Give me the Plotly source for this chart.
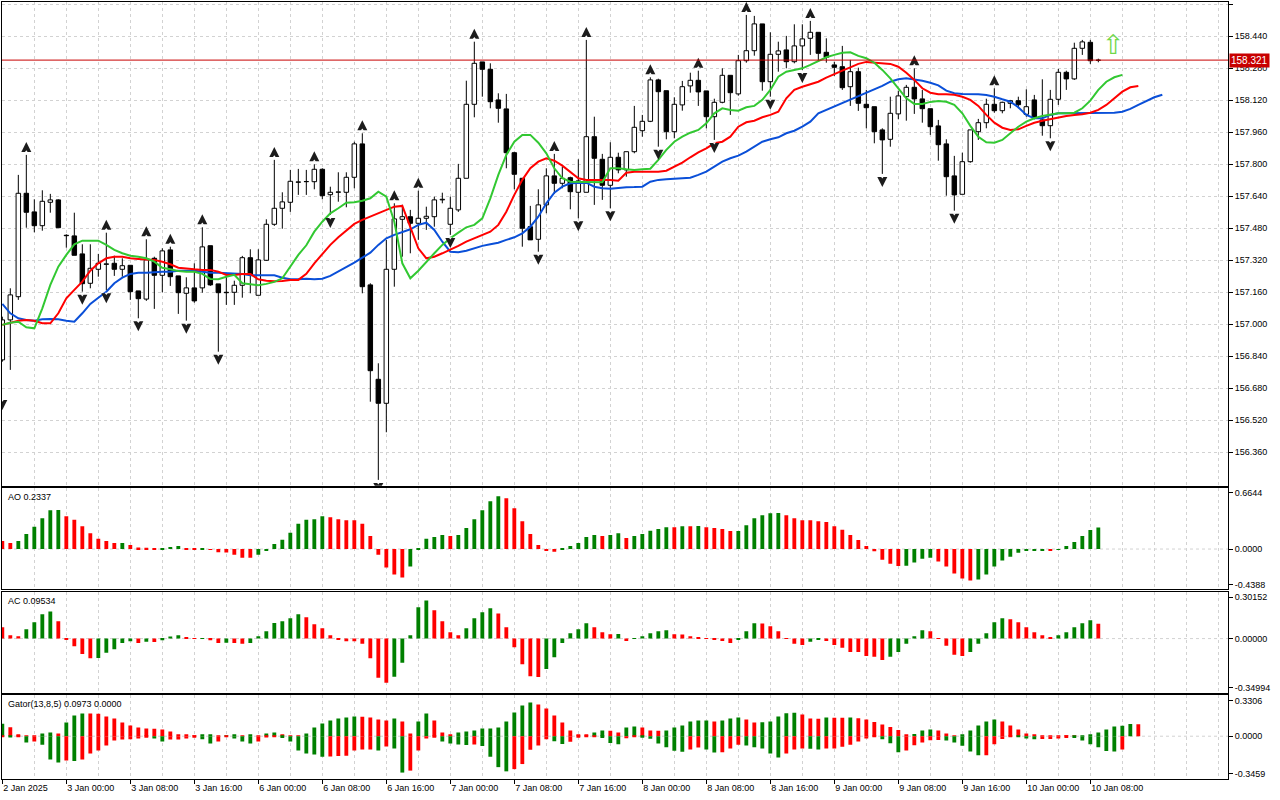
import plotly.graph_objects as go

# ---------------- data ----------------
tick_bars = [0, 8, 16, 24, 32, 40, 48, 56, 64, 72, 80, 88, 96, 104, 112, 120, 128, 136]
tick_labels = ["2 Jan 2025", "3 Jan 00:00", "3 Jan 08:00", "3 Jan 16:00", "6 Jan 00:00",
               "6 Jan 08:00", "6 Jan 16:00", "7 Jan 00:00", "7 Jan 08:00", "7 Jan 16:00",
               "8 Jan 00:00", "8 Jan 08:00", "8 Jan 16:00", "9 Jan 00:00", "9 Jan 08:00",
               "9 Jan 16:00", "10 Jan 00:00", "10 Jan 08:00"]
price_ticks = [156.36, 156.52, 156.68, 156.84, 157.00, 157.16, 157.32, 157.48, 157.64,
               157.80, 157.96, 158.12, 158.28, 158.44, 158.60]

bar_open = [
    156.822, 157.022, 157.138, 157.655, 157.562, 157.493, 157.610, 157.622, 157.445, 157.442,
    157.352, 157.205, 157.275, 157.302, 157.305, 157.275, 157.295, 157.167, 157.126, 157.330,
    157.245, 157.372, 157.242, 157.155, 157.182, 157.182, 157.393, 157.202, 157.160, 157.160,
    157.195, 157.333, 157.145, 157.320, 157.500, 157.580, 157.610, 157.710, 157.713, 157.713,
    157.775, 157.648, 157.660, 157.660, 157.735, 157.902, 157.197, 156.725, 156.605, 157.275,
    157.525, 157.538, 157.505, 157.530, 157.538, 157.622, 157.500, 157.572, 157.730, 158.100,
    158.312, 158.275, 158.122, 158.077, 157.858, 157.730, 157.488, 157.425, 157.597, 157.742,
    157.705, 157.733, 157.660, 157.660, 157.938, 157.825, 157.695, 157.835, 157.772, 157.863,
    157.968, 158.015, 158.222, 158.168, 157.963, 158.097, 158.192, 158.220, 158.167, 158.038,
    158.110, 158.245, 158.152, 158.318, 158.368, 158.502, 158.213, 158.350, 158.372, 158.313,
    158.392, 158.430, 158.460, 158.360, 158.297, 158.288, 158.188, 158.263, 158.100, 158.088,
    157.972, 157.925, 158.052, 158.138, 158.185, 158.127, 158.078, 157.992, 157.902, 157.742,
    157.650, 157.813, 157.963, 158.008, 158.100, 158.068, 158.105, 158.118, 158.050, 158.122,
    158.022, 157.993, 158.125, 158.260, 158.227, 158.380, 158.410, 158.320]
bar_high = [
    157.038, 157.180, 157.747, 157.847, 157.625, 157.670, 157.652, 157.625, 157.450, 157.558,
    157.400, 157.400, 157.352, 157.458, 157.343, 157.330, 157.295, 157.167, 157.425, 157.338,
    157.380, 157.388, 157.242, 157.235, 157.305, 157.485, 157.393, 157.202, 157.238, 157.218,
    157.342, 157.375, 157.375, 157.525, 157.822, 157.660, 157.772, 157.777, 157.772, 157.800,
    157.780, 157.688, 157.760, 157.760, 157.913, 157.955, 157.205, 156.805, 157.422, 157.605,
    157.598, 157.572, 157.668, 157.588, 157.638, 157.658, 157.638, 157.802, 158.218, 158.413,
    158.312, 158.305, 158.155, 158.152, 157.863, 157.730, 157.592, 157.675, 157.780, 157.852,
    157.788, 157.738, 157.825, 158.422, 158.038, 157.852, 157.910, 157.858, 157.863, 158.092,
    158.047, 158.235, 158.228, 158.168, 158.135, 158.217, 158.258, 158.268, 158.167, 158.128,
    158.280, 158.245, 158.347, 158.547, 158.542, 158.502, 158.460, 158.413, 158.442, 158.500,
    158.500, 158.517, 158.460, 158.430, 158.313, 158.392, 158.322, 158.283, 158.172, 158.088,
    157.980, 158.138, 158.168, 158.197, 158.280, 158.172, 158.078, 158.022, 157.925, 157.842,
    157.858, 157.972, 158.027, 158.128, 158.180, 158.113, 158.122, 158.138, 158.175, 158.147,
    158.225, 158.172, 158.277, 158.268, 158.408, 158.422, 158.422, 158.328]
bar_low = [
    156.813, 156.772, 157.122, 157.483, 157.460, 157.468, 157.558, 157.483, 157.383, 157.345,
    157.163, 157.180, 157.238, 157.170, 157.242, 157.238, 157.122, 157.030, 157.117, 157.077,
    157.160, 157.192, 157.052, 157.018, 157.108, 157.158, 157.192, 156.863, 157.097, 157.097,
    157.133, 157.155, 157.145, 157.317, 157.492, 157.478, 157.562, 157.647, 157.647, 157.675,
    157.625, 157.547, 157.613, 157.585, 157.680, 157.155, 156.613, 156.222, 156.460, 157.188,
    157.338, 157.355, 157.422, 157.472, 157.488, 157.605, 157.447, 157.562, 157.730, 158.035,
    158.138, 158.080, 158.008, 157.780, 157.675, 157.388, 157.422, 157.363, 157.555, 157.652,
    157.680, 157.575, 157.530, 157.660, 157.597, 157.622, 157.580, 157.755, 157.738, 157.855,
    157.938, 158.011, 157.888, 157.925, 157.930, 158.068, 158.158, 158.092, 157.980, 157.922,
    158.105, 158.047, 158.143, 158.308, 158.343, 158.168, 158.138, 158.263, 158.280, 158.305,
    158.272, 158.347, 158.313, 158.308, 158.242, 158.172, 158.092, 158.067, 157.980, 157.905,
    157.752, 157.888, 158.025, 158.018, 158.052, 158.008, 157.947, 157.818, 157.643, 157.568,
    157.650, 157.808, 157.922, 157.980, 158.058, 158.055, 158.080, 158.080, 158.038, 158.025,
    157.943, 157.930, 158.097, 158.172, 158.222, 158.347, 158.302, 158.310]
bar_close = [
    157.022, 157.147, 157.655, 157.560, 157.493, 157.615, 157.622, 157.483, 157.443, 157.345,
    157.203, 157.280, 157.305, 157.300, 157.275, 157.293, 157.163, 157.128, 157.322, 157.245,
    157.367, 157.238, 157.158, 157.182, 157.117, 157.387, 157.197, 157.158, 157.158, 157.195,
    157.333, 157.248, 157.322, 157.500, 157.580, 157.612, 157.715, 157.712, 157.714, 157.775,
    157.643, 157.660, 157.662, 157.735, 157.902, 157.188, 156.768, 156.605, 157.275, 157.527,
    157.538, 157.505, 157.530, 157.540, 157.622, 157.625, 157.580, 157.730, 158.100, 158.305,
    158.275, 158.113, 158.080, 157.858, 157.750, 157.480, 157.422, 157.597, 157.742, 157.705,
    157.730, 157.663, 157.717, 157.938, 157.830, 157.695, 157.835, 157.772, 157.863, 157.985,
    158.015, 158.222, 158.163, 157.963, 158.100, 158.188, 158.220, 158.162, 158.038, 158.110,
    158.245, 158.158, 158.318, 158.368, 158.502, 158.213, 158.350, 158.367, 158.313, 158.392,
    158.427, 158.460, 158.355, 158.335, 158.285, 158.183, 158.263, 158.105, 158.083, 157.963,
    157.922, 158.055, 158.142, 158.185, 158.127, 158.078, 157.988, 157.898, 157.738, 157.647,
    157.813, 157.972, 158.008, 158.100, 158.068, 158.110, 158.118, 158.098, 158.088, 158.030,
    157.993, 158.125, 158.260, 158.227, 158.380, 158.412, 158.318, 158.321]

# Alligator lines (already shifted forward as plotted)
jaw = [
    157.102, 157.055, 157.030, 157.022, 157.018, 157.025, 157.027, 157.025, 157.018, 157.013,
    157.055, 157.102, 157.133, 157.163, 157.205, 157.233, 157.252, 157.258, 157.258, 157.262,
    157.263, 157.263, 157.268, 157.268, 157.268, 157.263, 157.258, 157.258, 157.255, 157.255,
    157.252, 157.245, 157.245, 157.245, 157.245, 157.233, 157.225, 157.225, 157.228, 157.225,
    157.228, 157.242, 157.263, 157.285, 157.308, 157.333, 157.358, 157.397, 157.430, 157.447,
    157.463, 157.475, 157.497, 157.508, 157.472, 157.413, 157.363, 157.360, 157.368, 157.380,
    157.392, 157.400, 157.408, 157.422, 157.435, 157.455, 157.488, 157.538, 157.605, 157.658,
    157.688, 157.705, 157.708, 157.708, 157.688, 157.680, 157.678, 157.682, 157.685, 157.686,
    157.688, 157.713, 157.722, 157.725, 157.727, 157.730, 157.733, 157.747, 157.763, 157.788,
    157.813, 157.830, 157.843, 157.863, 157.888, 157.913, 157.925, 157.935, 157.955, 157.968,
    157.988, 158.013, 158.055, 158.072, 158.088, 158.105, 158.122, 158.142, 158.158, 158.175,
    158.192, 158.213, 158.225, 158.230, 158.225, 158.218, 158.208, 158.195, 158.168, 158.155,
    158.152, 158.152, 158.150, 158.147, 158.138, 158.125, 158.113, 158.085, 158.047, 158.030,
    158.030, 158.047, 158.055, 158.055, 158.055, 158.055, 158.055, 158.055, 158.056, 158.058,
    158.063, 158.077, 158.097, 158.117, 158.135, 158.148]
teeth = [
    156.997, 157.008, 157.018, 157.022, 157.018, 157.005, 157.005, 157.055, 157.130, 157.172,
    157.213, 157.268, 157.305, 157.330, 157.338, 157.338, 157.330, 157.327, 157.325, 157.322,
    157.313, 157.300, 157.283, 157.278, 157.275, 157.272, 157.272, 157.263, 157.247, 157.247,
    157.252, 157.252, 157.225, 157.218, 157.215, 157.216, 157.222, 157.222, 157.252, 157.305,
    157.352, 157.397, 157.435, 157.468, 157.502, 157.522, 157.538, 157.555, 157.568, 157.588,
    157.592, 157.488, 157.380, 157.330, 157.338, 157.355, 157.372, 157.392, 157.413, 157.430,
    157.450, 157.463, 157.497, 157.563, 157.647, 157.722, 157.780, 157.813, 157.830, 157.818,
    157.793, 157.763, 157.730, 157.722, 157.722, 157.722, 157.722, 157.718, 157.758, 157.763,
    157.763, 157.760, 157.763, 157.768, 157.788, 157.808, 157.835, 157.860, 157.880, 157.905,
    157.913, 157.938, 157.988, 158.010, 158.018, 158.035, 158.047, 158.063, 158.130, 158.172,
    158.188, 158.200, 158.213, 158.233, 158.252, 158.268, 158.285, 158.302, 158.312, 158.308,
    158.305, 158.302, 158.288, 158.258, 158.222, 158.180, 158.158, 158.150, 158.150, 158.148,
    158.138, 158.122, 158.092, 158.047, 158.008, 157.983, 157.972, 157.975, 157.992, 158.008,
    158.018, 158.027, 158.035, 158.042, 158.047, 158.050, 158.058, 158.072, 158.097, 158.130,
    158.163, 158.185, 158.192]
lips = [
    156.997, 157.008, 157.013, 156.985, 156.980, 157.080, 157.197, 157.288, 157.347, 157.400,
    157.418, 157.418, 157.418, 157.397, 157.372, 157.355, 157.343, 157.338, 157.330, 157.313,
    157.283, 157.275, 157.267, 157.263, 157.263, 157.252, 157.227, 157.225, 157.238, 157.247,
    157.205, 157.200, 157.195, 157.202, 157.212, 157.230, 157.288, 157.347, 157.395, 157.463,
    157.513, 157.555, 157.580, 157.608, 157.610, 157.618, 157.630, 157.663, 157.638, 157.513,
    157.305, 157.230, 157.268, 157.313, 157.355, 157.397, 157.430, 157.458, 157.485, 157.497,
    157.530, 157.630, 157.747, 157.847, 157.913, 157.947, 157.947, 157.908, 157.855, 157.780,
    157.730, 157.713, 157.713, 157.713, 157.713, 157.710, 157.780, 157.780, 157.775, 157.772,
    157.775, 157.778, 157.822, 157.872, 157.913, 157.938, 157.958, 157.972, 158.005, 158.055,
    158.080, 158.072, 158.068, 158.085, 158.092, 158.122, 158.172, 158.238, 158.263, 158.272,
    158.280, 158.297, 158.317, 158.335, 158.347, 158.358, 158.360, 158.342, 158.330, 158.308,
    158.272, 158.230, 158.180, 158.130, 158.102, 158.102, 158.112, 158.117, 158.113, 158.097,
    158.055, 157.992, 157.938, 157.910, 157.908, 157.922, 157.955, 157.988, 158.013, 158.030,
    158.042, 158.050, 158.055, 158.055, 158.058, 158.080, 158.118, 158.172, 158.213, 158.235,
    158.247]

up_fractal_bars = [3, 13, 18, 21, 25, 34, 39, 45, 49, 52, 59, 69, 73, 81, 87, 93, 101, 114, 124]
down_fractal_bars = [10, 13, 17, 23, 27, 41, 47, 56, 67, 72, 76, 82, 89, 96, 100, 110, 119, 131]
edge_fractal_bars = [0]
edge_fractal_levels = [156.636]

last_price = 158.321
signal_bar = 138.9
signal_price = 158.40

ao_values = [
    0.087, 0.065, 0.087, 0.163, 0.242, 0.336, 0.423, 0.425, 0.358, 0.318,
    0.249, 0.173, 0.112, 0.087, 0.065, 0.066, 0.043, 0.018, 0.014, 0.004,
    0.005, 0.022, 0.033, 0.011, 0.003, 0.010, -0.004, -0.036, -0.038, -0.061,
    -0.094, -0.095, -0.061, -0.018, 0.054, 0.101, 0.177, 0.275, 0.318, 0.325,
    0.358, 0.347, 0.325, 0.314, 0.313, 0.275, 0.141, -0.061, -0.202, -0.278,
    -0.311, -0.191, 0.004, 0.112, 0.130, 0.152, 0.141, 0.152, 0.228, 0.325,
    0.423, 0.520, 0.574, 0.553, 0.444, 0.303, 0.163, 0.043, -0.014, -0.029,
    0.003, 0.033, 0.065, 0.130, 0.152, 0.141, 0.152, 0.173, 0.119, 0.141,
    0.163, 0.199, 0.217, 0.238, 0.236, 0.249, 0.248, 0.250, 0.238, 0.228,
    0.217, 0.195, 0.196, 0.260, 0.336, 0.369, 0.390, 0.391, 0.369, 0.336,
    0.314, 0.313, 0.303, 0.293, 0.249, 0.210, 0.152, 0.098, 0.033, -0.025,
    -0.116, -0.159, -0.184, -0.181, -0.148, -0.105, -0.094, -0.137, -0.191, -0.267,
    -0.322, -0.343, -0.332, -0.278, -0.191, -0.126, -0.083, -0.040, -0.018, -0.014,
    -0.013, -0.018, -0.004, 0.033, 0.076, 0.141, 0.206, 0.2337]
ao_colors = ("rrggggggrr" "rrrrrgrrrr" "gggrrgrrrr" "rrgggggggg" "grrrrrrrrr"
             "rgggggrggg" "gggrrrrrrr" "gggggrggrg" "ggggrgrgrr" "rrggggggrr"
             "rrrrrrrrrr" "rrrggggrrr" "rrgggggggg" "grgggggg")

ac_values = [
    0.073, 0.022, 0.015, 0.060, 0.105, 0.157, 0.176, 0.112, -0.004, -0.049,
    -0.099, -0.127, -0.126, -0.092, -0.069, -0.028, -0.017, -0.028, -0.021, -0.022,
    -0.011, 0.013, 0.022, 0.004, 0.001, 0.002, -0.011, -0.028, -0.027, -0.028,
    -0.034, -0.028, 0.015, 0.047, 0.101, 0.112, 0.131, 0.157, 0.138, 0.092,
    0.067, 0.022, -0.004, -0.017, -0.018, -0.034, -0.127, -0.254, -0.286, -0.247,
    -0.157, 0.022, 0.202, 0.247, 0.183, 0.112, 0.041, 0.022, 0.067, 0.131,
    0.170, 0.196, 0.163, 0.073, -0.056, -0.166, -0.243, -0.249, -0.196, -0.120,
    -0.028, 0.034, 0.060, 0.099, 0.073, 0.041, 0.028, 0.029, -0.015, 0.002,
    0.015, 0.034, 0.047, 0.054, 0.028, 0.027, 0.015, 0.009, 0.002, -0.009,
    -0.015, -0.028, -0.009, 0.047, 0.099, 0.098, 0.080, 0.047, -0.002, -0.034,
    -0.041, -0.021, -0.009, -0.015, -0.041, -0.060, -0.086, -0.087, -0.112, -0.118,
    -0.138, -0.118, -0.086, -0.034, 0.015, 0.054, 0.047, -0.002, -0.047, -0.105,
    -0.112, -0.086, -0.034, 0.034, 0.105, 0.131, 0.125, 0.105, 0.073, 0.041,
    0.022, 0.009, 0.022, 0.041, 0.073, 0.099, 0.118, 0.09534]
ac_colors = ("rrrggggrrr" "rrgggggrgr" "gggrrgrrgr" "rgggggggrr" "rrrrrrrrrg"
             "ggggrrrrgg" "ggrrrrrrgg" "ggggrrrgrg" "ggggrrrrrr" "rrgggrrrrr"
             "rggrrrrrrr" "rgggggrrrr" "rgggggrrrr" "rrgggggr")

gator_upper = [
    0.100, 0.073, 0.016, 0.006, 0.005, 0.022, 0.030, 0.022, 0.111, 0.167,
    0.184, 0.183, 0.182, 0.159, 0.143, 0.111, 0.086, 0.070, 0.062, 0.061,
    0.054, 0.038, 0.014, 0.013, 0.005, 0.014, 0.015, 0.005, 0.006, 0.014,
    0.003, 0.014, 0.005, 0.022, 0.030, 0.014, 0.005, 0.003, 0.022, 0.070,
    0.103, 0.127, 0.143, 0.151, 0.159, 0.158, 0.151, 0.135, 0.127, 0.143,
    0.119, 0.022, 0.119, 0.184, 0.127, 0.030, 0.014, 0.030, 0.038, 0.046,
    0.062, 0.063, 0.070, 0.119, 0.192, 0.248, 0.273, 0.257, 0.224, 0.167,
    0.111, 0.046, 0.014, 0.013, 0.030, 0.046, 0.045, 0.030, 0.070, 0.078,
    0.070, 0.046, 0.045, 0.047, 0.070, 0.086, 0.119, 0.127, 0.128, 0.119,
    0.127, 0.143, 0.151, 0.135, 0.111, 0.112, 0.119, 0.159, 0.185, 0.190,
    0.175, 0.143, 0.142, 0.151, 0.150, 0.149, 0.152, 0.145, 0.135, 0.115,
    0.095, 0.075, 0.050, 0.015, 0.017, 0.046, 0.054, 0.046, 0.022, 0.006,
    0.014, 0.046, 0.086, 0.119, 0.135, 0.119, 0.086, 0.054, 0.022, 0.014,
    0.006, 0.005, 0.004, 0.003, 0.002, 0.005, 0.012, 0.030, 0.055, 0.078,
    0.085, 0.099, 0.0973]
gator_upper_colors = ("grrrrggrgg" "grrrrrrrrr" "rrrrrggrgg" "rgrggrrrgg" "gggggrrrrg"
                      "rrggrrrggg" "gggggggrrr" "rrrrggrrgg" "rrrggggggr" "gggrrggggg"
                      "rrrgrrgrrr" "rrrrgggrrr" "gggggrrrrr" "rrrrrggggg" "ggr")
gator_lower = [
    -0.004, -0.011, -0.005, -0.051, -0.043, -0.068, -0.189, -0.213, -0.197, -0.200,
    -0.189, -0.140, -0.116, -0.076, -0.035, -0.027, -0.025, -0.018, -0.013, -0.019,
    -0.043, -0.027, -0.026, -0.019, -0.013, -0.024, -0.059, -0.043, -0.008, -0.019,
    -0.043, -0.059, -0.043, -0.011, -0.006, -0.014, -0.043, -0.116, -0.140, -0.148,
    -0.165, -0.164, -0.159, -0.157, -0.116, -0.108, -0.107, -0.116, -0.084, -0.100,
    -0.294, -0.278, -0.116, -0.019, -0.013, -0.043, -0.058, -0.066, -0.072, -0.067,
    -0.080, -0.167, -0.250, -0.284, -0.266, -0.225, -0.110, -0.075, -0.025, -0.040,
    -0.063, -0.045, -0.013, -0.008, -0.006, -0.015, -0.055, -0.065, -0.017, -0.008,
    -0.012, -0.020, -0.058, -0.090, -0.118, -0.125, -0.108, -0.092, -0.108, -0.132,
    -0.130, -0.100, -0.068, -0.075, -0.090, -0.100, -0.140, -0.173, -0.140, -0.108,
    -0.100, -0.101, -0.108, -0.100, -0.099, -0.085, -0.070, -0.043, -0.018, -0.003,
    -0.025, -0.057, -0.130, -0.116, -0.073, -0.050, -0.033, -0.030, -0.035, -0.051,
    -0.078, -0.124, -0.154, -0.153, -0.065, -0.022, -0.006, -0.008, -0.019, -0.024,
    -0.023, -0.022, -0.019, -0.014, -0.015, -0.035, -0.065, -0.089, -0.119, -0.124,
    -0.108]
gator_lower_colors = ("rgrgrgggrg" "rrrrrrrrrg" "grrrrggrrg" "ggrrrggggg" "grrrrrrgrg"
                      "grrrrggggr" "ggggrrrrrg" "grrrrgggrr" "ggggggrrgg" "rrrgggggrr"
                      "rggrrrrrrr" "gggrrrrrgg" "gggrrrrggg" "rrrrgggggg" "r")

ao_range = [-0.4388, 0.6644]
ac_range = [-0.34994, 0.30152]
gator_range = [-0.3459, 0.3306]

# ---------------- styling ----------------
FONT = "Liberation Sans"
GREEN = "#008000"
RED = "#ff0000"
GRID = "#d2d2d2"
DASH = "3px,3px"
X0, X1 = -0.04, 153.21
MAIN_RANGE = [156.193, 158.6115]
PX = 0.005            # price per pixel in the main panel
TIP_OFF = 13 * PX     # fractal arrow tip distance from the bar extreme
NOTCH_OFF = 3.2 * PX  # centre of the small notch cut into the arrow base


def colors(code):
    return [GREEN if ch == "g" else RED for ch in code]


n = len(bar_close)
bars = list(range(n))
fig = go.Figure()

# candle wicks (split so they never cross a hollow body)
wx, wy = [], []
for i in bars:
    top = max(bar_open[i], bar_close[i])
    bot = min(bar_open[i], bar_close[i])
    wx += [i, i, None, i, i, None]
    wy += [bar_high[i], top, None, bot, bar_low[i], None]
fig.add_trace(go.Scatter(x=wx, y=wy, mode="lines", line=dict(color="black", width=1),
                         hoverinfo="skip", xaxis="x", yaxis="y"))

bull = [i for i in bars if bar_close[i] >= bar_open[i]]
bear = [i for i in bars if bar_close[i] < bar_open[i]]
MINH = 0.0006
fig.add_trace(go.Bar(x=bull, base=[bar_open[i] for i in bull],
                     y=[max(bar_close[i] - bar_open[i], MINH) for i in bull],
                     width=0.56, marker=dict(color="white", line=dict(color="black", width=1)),
                     xaxis="x", yaxis="y"))
fig.add_trace(go.Bar(x=bear, base=[bar_close[i] for i in bear],
                     y=[max(bar_open[i] - bar_close[i], MINH) for i in bear],
                     width=0.56, marker=dict(color="black", line=dict(color="black", width=1)),
                     xaxis="x", yaxis="y"))

# alligator
fig.add_trace(go.Scatter(x=list(range(len(jaw))), y=jaw, mode="lines",
                         line=dict(color="#0a4fd8", width=2), xaxis="x", yaxis="y"))
fig.add_trace(go.Scatter(x=list(range(len(teeth))), y=teeth, mode="lines",
                         line=dict(color="#ff0000", width=2), xaxis="x", yaxis="y"))
fig.add_trace(go.Scatter(x=list(range(len(lips))), y=lips, mode="lines",
                         line=dict(color="#32c832", width=2), xaxis="x", yaxis="y"))

# fractals: arrowhead (tip at the marker point) with a small notch in its base
dn_bars = down_fractal_bars + edge_fractal_bars
dn_levels = [bar_low[i] for i in down_fractal_bars] + edge_fractal_levels
fig.add_trace(go.Scatter(x=up_fractal_bars, y=[bar_high[i] + TIP_OFF for i in up_fractal_bars],
                         mode="markers",
                         marker=dict(symbol="arrow-up", size=10, color="#1c1c1c", line=dict(width=0)),
                         xaxis="x", yaxis="y"))
fig.add_trace(go.Scatter(x=up_fractal_bars, y=[bar_high[i] + NOTCH_OFF for i in up_fractal_bars],
                         mode="markers",
                         marker=dict(symbol="triangle-up", size=3, color="white", line=dict(width=0)),
                         xaxis="x", yaxis="y"))
fig.add_trace(go.Scatter(x=dn_bars, y=[v - TIP_OFF for v in dn_levels], mode="markers",
                         marker=dict(symbol="arrow-down", size=10, color="#1c1c1c", line=dict(width=0)),
                         xaxis="x", yaxis="y"))
fig.add_trace(go.Scatter(x=dn_bars, y=[v - NOTCH_OFF for v in dn_levels], mode="markers",
                         marker=dict(symbol="triangle-down", size=3, color="white", line=dict(width=0)),
                         xaxis="x", yaxis="y"))

# indicator panels
fig.add_trace(go.Bar(x=bars, y=ao_values, width=0.48, marker=dict(color=colors(ao_colors), line=dict(width=0)),
                     xaxis="x2", yaxis="y2"))
fig.add_trace(go.Bar(x=bars, y=ac_values, width=0.48, marker=dict(color=colors(ac_colors), line=dict(width=0)),
                     xaxis="x3", yaxis="y3"))
fig.add_trace(go.Bar(x=list(range(len(gator_upper))), y=gator_upper, width=0.48,
                     marker=dict(color=colors(gator_upper_colors), line=dict(width=0)),
                     xaxis="x4", yaxis="y4"))
fig.add_trace(go.Bar(x=list(range(len(gator_lower))), y=gator_lower, width=0.48,
                     marker=dict(color=colors(gator_lower_colors), line=dict(width=0)),
                     xaxis="x4", yaxis="y4"))

tickfont = dict(family=FONT, size=9, color="black")


def xaxis(show_labels, anchor):
    d = dict(range=[X0, X1], domain=[0, 1], anchor=anchor, showline=True, mirror=True,
             linecolor="black", linewidth=1, zeroline=False,
             tickmode="array", tickvals=tick_bars,
             showgrid=True, gridcolor=GRID, griddash=DASH, gridwidth=1,
             minor=dict(dtick=4, tick0=0, showgrid=True, gridcolor=GRID, griddash=DASH, ticks=""),
             tickfont=tickfont, fixedrange=True)
    if show_labels:
        d.update(ticktext=tick_labels, showticklabels=True, ticks="outside", ticklen=4,
                 tickcolor="black", ticklabelposition="outside right")
    else:
        d.update(showticklabels=False, ticks="")
    if anchor != "y":
        d["matches"] = "x"
    return d


def side_axis(rng, domain, anchor, decimals, inset_px, panel_px):
    span = rng[1] - rng[0]
    inset = span * inset_px / panel_px
    vals = [rng[1] - inset, 0.0, rng[0] + inset]
    texts = [f"{rng[1]:.{decimals}f}", f"{0:.{decimals}f}", f"{rng[0]:.{decimals}f}"]
    return dict(range=rng, domain=domain, anchor=anchor, side="right", showline=True, mirror=True,
                linecolor="black", linewidth=1, zeroline=False, showgrid=False,
                tickmode="array", tickvals=vals, ticktext=texts, ticks="outside", ticklen=4,
                tickcolor="black", tickfont=tickfont, fixedrange=True)


D_MAIN = [0.3775, 1.0]
D_AO = [0.2441, 0.3745]
D_AC = [0.1111, 0.2407]
D_GT = [0.0, 0.1077]

fig.update_layout(
    width=1280, height=800,
    margin=dict(l=2, r=52, t=2, b=21),
    paper_bgcolor="white", plot_bgcolor="white",
    showlegend=False, barmode="overlay",
    font=dict(family=FONT, size=9, color="black"),
    xaxis=xaxis(False, "y"),
    xaxis2=xaxis(False, "y2"),
    xaxis3=xaxis(False, "y3"),
    xaxis4=xaxis(True, "y4"),
    yaxis=dict(range=MAIN_RANGE, domain=D_MAIN, anchor="x", side="right", showline=True, mirror=True,
               linecolor="black", linewidth=1, zeroline=False,
               tickmode="array", tickvals=price_ticks, ticktext=[f"{v:.3f}" for v in price_ticks],
               ticks="outside", ticklen=4, tickcolor="black", tickfont=tickfont,
               showgrid=True, gridcolor=GRID, griddash=DASH, gridwidth=1, fixedrange=True),
    yaxis2=side_axis(ao_range, D_AO, "x2", 4, 4.5, 101),
    yaxis3=side_axis(ac_range, D_AC, "x3", 5, 5.3, 101),
    yaxis4=side_axis(gator_range, D_GT, "x4", 4, 5.3, 84),
)

shapes = [
    dict(type="line", xref="x domain", yref="y", x0=0, x1=1, y0=last_price, y1=last_price,
         line=dict(color="#c80000", width=1), layer="above"),
]
for k in ("2", "3", "4"):
    shapes.append(dict(type="line", xref=f"x{k} domain", yref=f"y{k}", x0=0, x1=1, y0=0, y1=0,
                       line=dict(color=GRID, width=1, dash=DASH), layer="below"))
fig.update_layout(shapes=shapes)

ann = [
    dict(text=f"{last_price:.3f}", xref="paper", x=1.0, xanchor="left", xshift=1,
         yref="y", y=last_price, yanchor="middle", showarrow=False,
         bgcolor="#c80000", font=dict(family=FONT, size=10, color="white"), borderpad=1),
    dict(text="\u21e7", xref="x", x=signal_bar, yref="y", y=signal_price, showarrow=False,
         font=dict(family="DejaVu Sans", size=27, color="#6fd84a")),
    dict(text=f"AO {ao_values[-1]:.4f}", xref="paper", x=0.003, xanchor="left",
         yref="y2 domain", y=1, yanchor="top", yshift=-2, showarrow=False, font=tickfont),
    dict(text=f"AC {ac_values[-1]:.5f}", xref="paper", x=0.003, xanchor="left",
         yref="y3 domain", y=1, yanchor="top", yshift=-2, showarrow=False, font=tickfont),
    dict(text=f"Gator(13,8,5) {gator_upper[-1]:.4f} 0.0000", xref="paper", x=0.003, xanchor="left",
         yref="y4 domain", y=1, yanchor="top", yshift=-2, showarrow=False, font=tickfont),
]
fig.update_layout(annotations=ann)

fig.write_html("out.html", config={"displayModeBar": False},
               post_script="document.body.style.margin='0';document.body.style.padding='0';")
